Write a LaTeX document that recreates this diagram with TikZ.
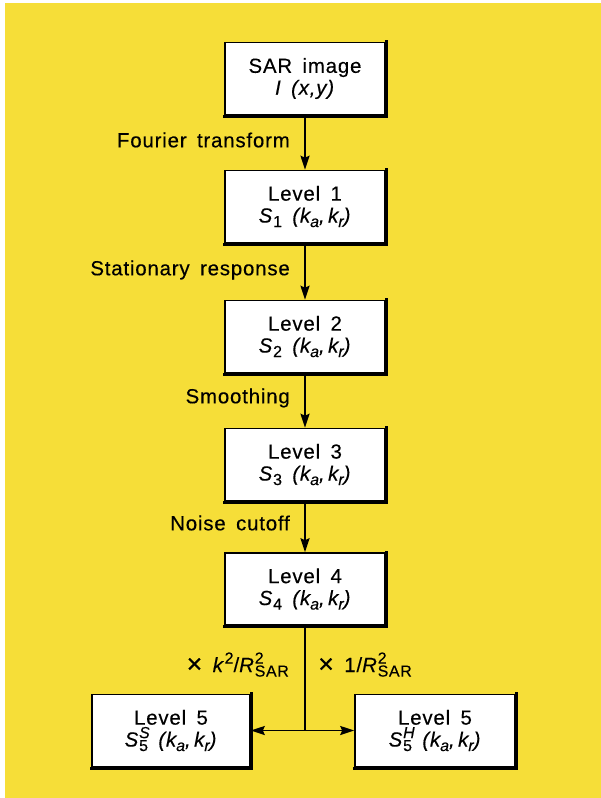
\documentclass[tikz,border=0pt]{standalone}
\usepackage{fontspec}
\setmainfont{Liberation Sans}[LetterSpace=4,WordSpace=1.6,FakeBold=0.3]
\usetikzlibrary{arrows.meta}
\definecolor{bgyellow}{RGB}{246,222,56}
\newcommand\lsub[1]{\raisebox{-0.42ex}{\fontsize{16}{16}\selectfont #1}}
\newcommand\lsup[1]{\raisebox{0.78ex}{\fontsize{16}{16}\selectfont #1}}
\newcommand\lboth[2]{\makebox[0pt][l]{\lsup{#1}}\lsub{#2}}
\newcommand\kk{\textit{(k\lsub{a},\,k\lsub{r})}}
\newcommand\bigtimes{\raisebox{-1bp}{\fontsize{27}{27}\selectfont ×}}
\tikzset{
  box/.style={draw, line width=1.6bp, fill=white, minimum width=160bp, minimum height=72bp,
    align=center, inner sep=0pt, font=\fontsize{20.5}{22}\selectfont},
  lbl/.style={font=\fontsize{20.5}{22}\selectfont, anchor=east, inner sep=0pt},
  conn/.style={line width=1.8bp, -{Stealth[length=14bp,width=9bp,inset=2bp]}},
  shadowline/.style={line width=2.8bp, line cap=rect}
}
\begin{document}
\begin{tikzpicture}[x=1bp,y=-1bp]
\fill[white] (0,0) rectangle (601,798);
\fill[bgyellow] (5,3) rectangle (601,798);
\useasboundingbox (0,0) rectangle (601,798);

\node[box] (b0) at (305,78.5) {SAR image\\\textit{I (x,y)}};
\node[box] (b1) at (305,206.5) {Level 1\\\textit{S}\lsub{1} \kk};
\node[box] (b2) at (305,336.5) {Level 2\\\textit{S}\lsub{2} \kk};
\node[box] (b3) at (305,464.5) {Level 3\\\textit{S}\lsub{3} \kk};
\node[box] (b4) at (305,589) {Level 4\\\textit{S}\lsub{4} \kk};
\node[box, minimum width=158bp] (b5l) at (171,730.5) {Level 5\\\textit{S}\lboth{\textit{S}}{5} \kk};
\node[box] (b5r) at (435,730.5) {Level 5\\\textit{S}\lboth{\textit{H}}{5} \kk};

\foreach \n in {b0,b1,b2,b3,b4,b5l,b5r}
  \draw[shadowline] ([yshift=-0.8bp]\n.south west) -- ([xshift=0.8bp,yshift=-0.8bp]\n.south east) -- ([xshift=0.8bp]\n.north east);

\draw[conn] (b0) -- (b1);
\draw[conn] (b1) -- (b2);
\draw[conn] (b2) -- (b3);
\draw[conn] (b3) -- (b4);
\coordinate (j) at (b4.south |- b5l.east);
\draw[line width=1.8bp] (b4.south) -- (j);
\draw[conn] (j) -- (b5l.east);
\draw[conn] (j) -- (b5r.west);

\node[lbl] (l0) at (290,140) {Fourier transform};
\node[lbl] (l1) at (290,270) {Stationary response};
\node[lbl] (l2) at (290,398) {Smoothing};
\node[lbl] (l3) at (290,523) {Noise cutoff};
\node[lbl, anchor=base east] (l4) at (289,672) {\bigtimes\ \textit{k}\lsup{2}/\textit{R}\lboth{2}{SAR}};
\node[lbl, anchor=base west] (l5) at (318,672) {\bigtimes\ 1/\textit{R}\lboth{2}{SAR}};
\end{tikzpicture}
\end{document}
